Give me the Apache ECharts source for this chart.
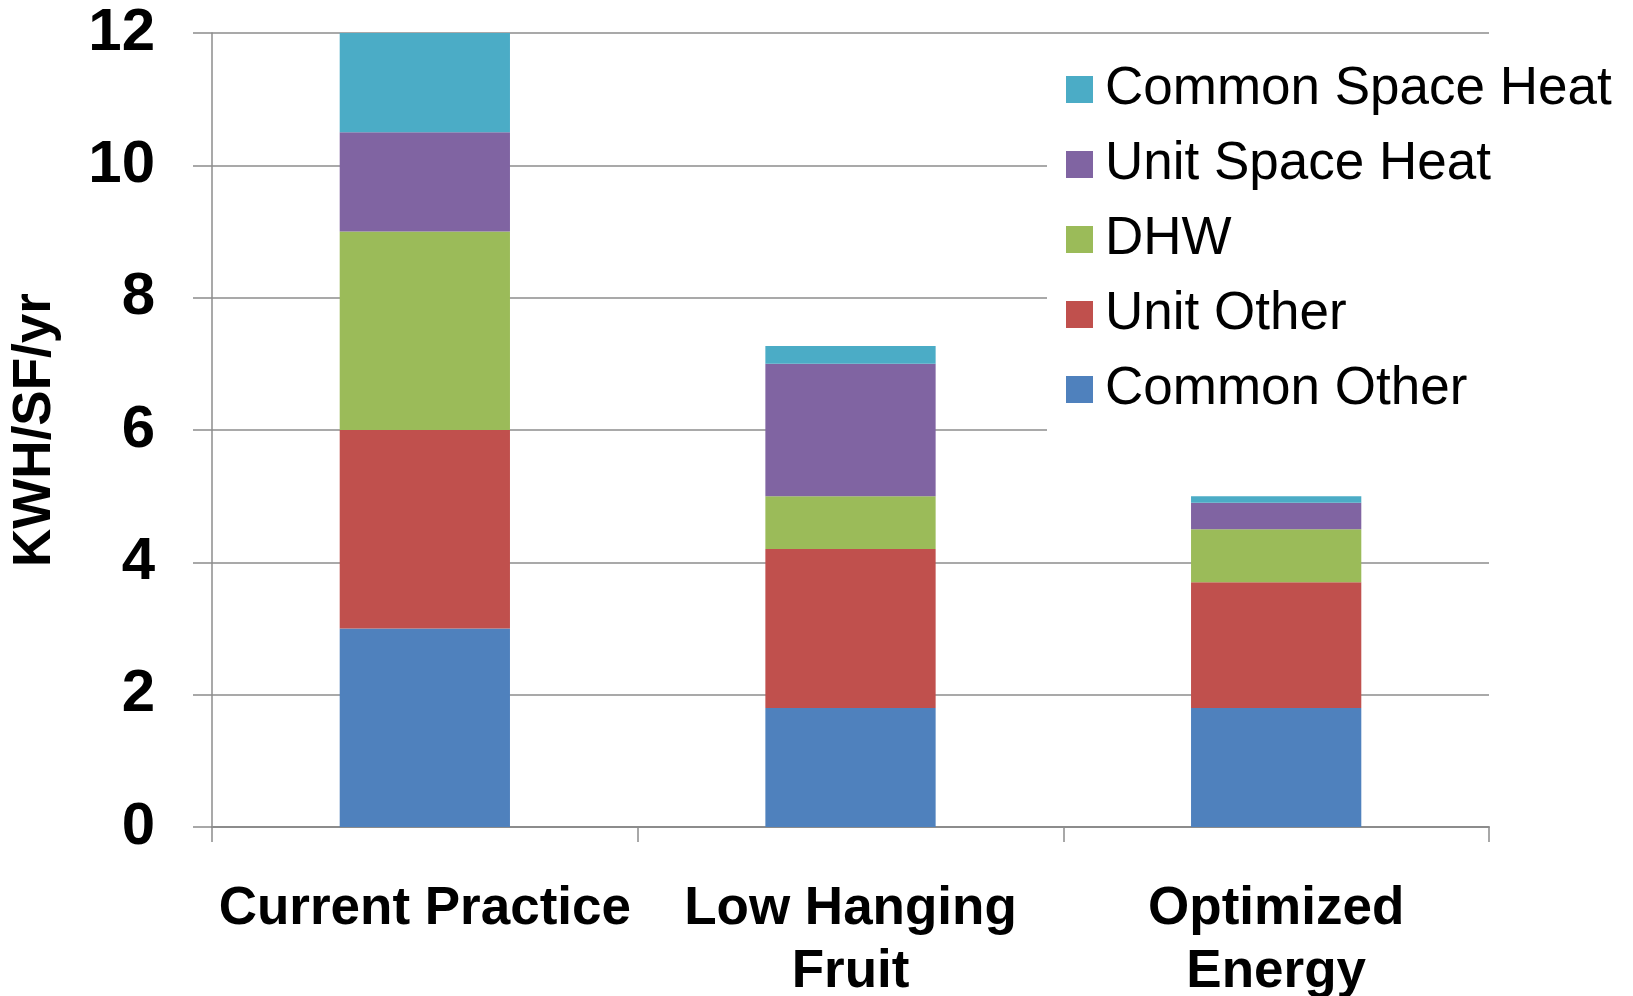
<!DOCTYPE html>
<html>
<head>
<meta charset="utf-8">
<script src="https://cdn.jsdelivr.net/npm/echarts@6/dist/echarts.min.js"></script>
<style>
html,body{margin:0;padding:0;background:#fff;}
#chart{width:1633px;height:996px;}
</style>
</head>
<body>
<div id="chart"></div>
<script>
const categories = ['Current Practice', 'Low Hanging\nFruit', 'Optimized\nEnergy'];
const commonOther = [3.0, 1.8, 1.8];
const unitOther = [3.0, 2.4, 1.9];
const dhw = [3.0, 0.8, 0.8];
const unitSpaceHeat = [1.5, 2.0, 0.4];
const commonSpaceHeat = [1.5, 0.27, 0.1];
const seriesNames = ['Common Other', 'Unit Other', 'DHW', 'Unit Space Heat', 'Common Space Heat'];
const yTicks = { min: 0, max: 12, interval: 2 };

const colors = ['#4F81BD', '#C0504D', '#9BBB59', '#8064A2', '#4BACC6'];
const values = [commonOther, unitOther, dhw, unitSpaceHeat, commonSpaceHeat];
const FONT = '"Liberation Sans", Arial, sans-serif';

const chart = echarts.init(document.getElementById('chart'));
chart.setOption({
  animation: false,
  backgroundColor: '#fff',
  grid: { left: 212, right: 144, top: 33, bottom: 169, containLabel: false, outerBoundsMode: 'none' },
  legend: {
    orient: 'vertical',
    left: 1047,
    top: 48,
    padding: [15, 0, 15, 19],
    backgroundColor: '#fff',
    icon: 'rect',
    itemWidth: 27,
    itemHeight: 27,
    itemGap: 22,
    data: seriesNames.slice().reverse(),
    textStyle: { fontFamily: FONT, fontSize: 53, color: '#000', lineHeight: 53, padding: [0, 0, 0, 7] }
  },
  xAxis: {
    type: 'category',
    data: categories,
    axisLine: { lineStyle: { color: '#8c8c8c', width: 2 } },
    axisTick: { show: true, length: 15, lineStyle: { color: '#8c8c8c', width: 1.5 } },
    axisLabel: { fontFamily: FONT, fontSize: 53, fontWeight: 'bold', color: '#000', margin: 51, lineHeight: 63, interval: 0 }
  },
  yAxis: {
    type: 'value',
    min: yTicks.min, max: yTicks.max, interval: yTicks.interval,
    name: 'KWH/SF/yr',
    nameLocation: 'middle',
    nameGap: 150,
    nameRotate: 90,
    nameTextStyle: { fontFamily: FONT, fontSize: 53, fontWeight: 'bold', color: '#000' },
    axisLine: { show: true, lineStyle: { color: '#8c8c8c', width: 1.5 } },
    axisTick: { show: true, length: 19, lineStyle: { color: '#8c8c8c', width: 1.5 } },
    splitLine: { show: true, lineStyle: { color: '#8c8c8c', width: 1.5 } },
    axisLabel: { fontFamily: FONT, fontSize: 60, fontWeight: 'bold', color: '#000', margin: 57 }
  },
  series: seriesNames.map((n, i) => ({
    name: n,
    type: 'bar',
    stack: 'total',
    barWidth: '40%',
    data: values[i],
    itemStyle: { color: colors[i] },
    z: 2
  }))
});
</script>
</body>
</html>
